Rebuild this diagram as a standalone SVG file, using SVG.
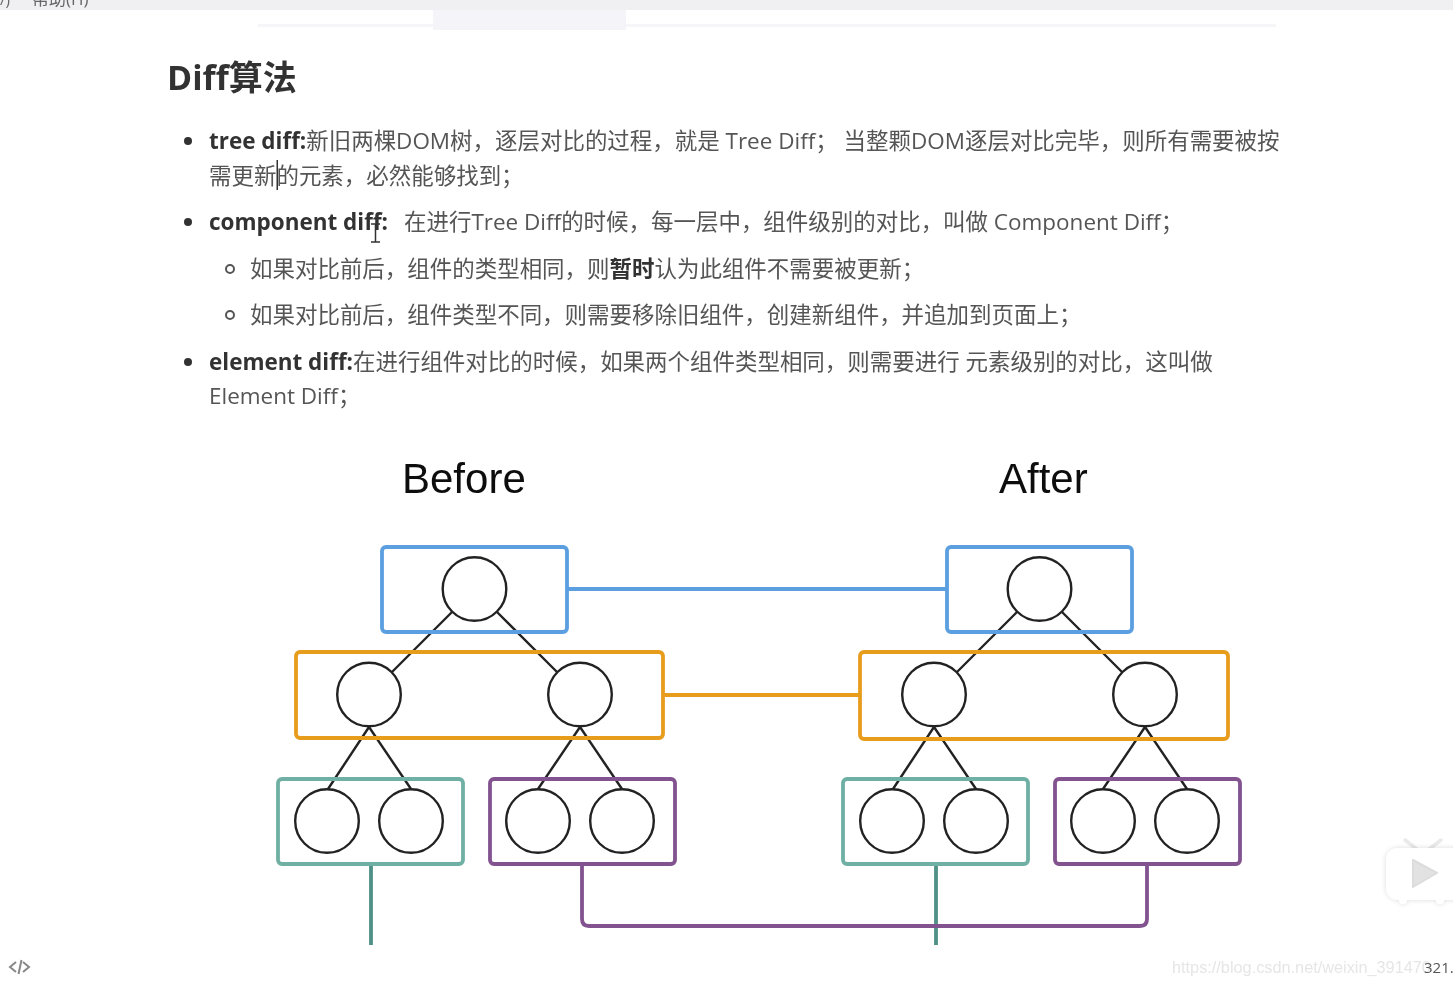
<svg xmlns="http://www.w3.org/2000/svg" width="1453" height="985" viewBox="0 0 1453 985">
<defs>
<filter id="soft" x="0" y="0" width="100%" height="100%"><feGaussianBlur stdDeviation="0.5"/></filter>
<filter id="shadow" x="-20%" y="-20%" width="140%" height="140%"><feDropShadow dx="0" dy="0" stdDeviation="2.5" flood-color="#000" flood-opacity="0.14"/></filter>
</defs>
<style>
text{font-family:"Open Sans","Noto Sans CJK SC",sans-serif}
.b{font-size:22.47px;fill:#555}
.s{font-weight:700;fill:#333}
.bl{fill:#333}
.n{fill:#fff;stroke:#222;stroke-width:2.4}
.e{stroke:#222;stroke-width:2.4;fill:none}
.box{fill:none;stroke-width:3.8}
.blue{stroke:#5b9fe0}.org{stroke:#e89c1e}.tea{stroke:#6fb0a4}.pur{stroke:#82528f}
.lk{fill:none;stroke-width:3.8}
.t{font-family:"Liberation Sans",Arial,sans-serif;font-size:42px;fill:#111}
</style>
<rect width="1453" height="985" fill="#fff"/>
<g filter="url(#soft)">
<g id="chrome">
<rect x="0" y="0" width="1453" height="10" fill="#f0f0f3"/>
<rect x="258" y="24" width="1018" height="3" fill="#f6f6f8"/>
<rect x="433" y="10" width="193" height="20" fill="#f5f5f9"/>
<text x="0" y="5" font-size="15" fill="#666">/)</text>
<text x="32" y="5" font-size="17" fill="#666">帮助(H)</text>
</g>
<g id="article">
<text x="167" y="90" font-size="34" class="s">Diff算法</text>
<circle class="bl" cx="188" cy="141" r="4"/>
<text x="209" y="148.500" class="b"><tspan class="s">tree diff:</tspan>新旧两棵DOM树，逐层对比的过程，就是 Tree Diff； 当整颗DOM逐层对比完毕，则所有需要被按</text>
<text x="209" y="183.500" class="b">需更新的元素，必然能够找到；</text>
<rect x="276.500" y="160" width="1.500" height="30" fill="#333"/>
<circle class="bl" cx="188" cy="222" r="4"/>
<text x="209" y="229.500" class="b"><tspan class="s">component diff:</tspan><tspan x="404">在进行Tree Diff的时候，每一层中，组件级别的对比，叫做 Component Diff；</tspan></text>
<path d="M371 224h9M375.500 224v18M371 242h9" stroke="#333" stroke-width="1.500" fill="none"/>
<circle cx="230" cy="269" r="4" fill="none" stroke="#555" stroke-width="2"/>
<text x="250" y="276.500" class="b">如果对比前后，组件的类型相同，则<tspan class="s">暂时</tspan>认为此组件不需要被更新；</text>
<circle cx="230" cy="315" r="4" fill="none" stroke="#555" stroke-width="2"/>
<text x="250" y="322.500" class="b">如果对比前后，组件类型不同，则需要移除旧组件，创建新组件，并追加到页面上；</text>
<circle class="bl" cx="188" cy="362" r="4"/>
<text x="209" y="369.500" class="b"><tspan class="s">element diff:</tspan>在进行组件对比的时候，如果两个组件类型相同，则需要进行 元素级别的对比，这叫做</text>
<text x="209" y="404" class="b">Element Diff；</text>
</g>
<text class="t" x="402" y="493">Before</text>
<text class="t" x="999" y="493">After</text>
<g id="connectors">
<path class="lk blue" d="M567 589H947"/>
<path class="lk org" d="M663 695H860"/>
<path class="lk" stroke="#4f9187" d="M371 864V945M936 864V945"/>
<path class="lk pur" d="M582 864V919Q582 926 589 926H1140Q1147 926 1147 919V864"/>
<path class="e" d="M452 612L392 672M497 612L557 672M369 727L328 789M369 727L411 789M580 727L538 789M580 727L622 789"/>
<path class="e" d="M1017 612L957 672M1062 612L1122 672M934 727L893 789M934 727L976 789M1145 727L1103 789M1145 727L1187 789"/>
</g>
<g id="before-root-group"><rect class="box blue" x="382" y="547" width="185" height="85" rx="4"/></g>
<g id="before-mid-group"><rect class="box org" x="296" y="652" width="367" height="86" rx="4"/></g>
<g id="before-leaf-group-a"><rect class="box tea" x="278" y="779" width="185" height="85" rx="4"/></g>
<g id="before-leaf-group-b"><rect class="box pur" x="490" y="779" width="185" height="85" rx="4"/></g>
<g id="after-root-group"><rect class="box blue" x="947" y="547" width="185" height="85" rx="4"/></g>
<g id="after-mid-group"><rect class="box org" x="860" y="652" width="368" height="87" rx="4"/></g>
<g id="after-leaf-group-a"><rect class="box tea" x="843" y="779" width="185" height="85" rx="4"/></g>
<g id="after-leaf-group-b"><rect class="box pur" x="1055" y="779" width="185" height="85" rx="4"/></g>
<g id="b1"><circle class="n" cx="474.500" cy="589" r="31.800"/></g>
<g id="b2"><circle class="n" cx="369" cy="694.500" r="31.800"/></g>
<g id="b3"><circle class="n" cx="580" cy="694.500" r="31.800"/></g>
<g id="b4"><circle class="n" cx="327" cy="821" r="31.800"/></g>
<g id="b5"><circle class="n" cx="411" cy="821" r="31.800"/></g>
<g id="b6"><circle class="n" cx="538" cy="821" r="31.800"/></g>
<g id="b7"><circle class="n" cx="622" cy="821" r="31.800"/></g>
<g id="a1"><circle class="n" cx="1039.500" cy="589" r="31.800"/></g>
<g id="a2"><circle class="n" cx="934" cy="694.500" r="31.800"/></g>
<g id="a3"><circle class="n" cx="1145" cy="694.500" r="31.800"/></g>
<g id="a4"><circle class="n" cx="892" cy="821" r="31.800"/></g>
<g id="a5"><circle class="n" cx="976" cy="821" r="31.800"/></g>
<g id="a6"><circle class="n" cx="1103" cy="821" r="31.800"/></g>
<g id="a7"><circle class="n" cx="1187" cy="821" r="31.800"/></g>
<g id="overlay">
<path d="M1405 840L1418 850M1441 840L1428 850" stroke="#eaeaea" stroke-width="3.500" stroke-linecap="round"/>
<g filter="url(#shadow)">
<rect x="1386" y="848" width="80" height="52" rx="12" fill="#fff"/>
<circle cx="1403" cy="900" r="4" fill="#fff"/><circle cx="1440" cy="900" r="4" fill="#fff"/>
</g>
<path d="M1413 860L1437 873L1413 887Z" fill="#e2e2e2" stroke="#dcdcdc" stroke-width="2" stroke-linejoin="round"/>
<path d="M16 962l-6 5 6 5M23 962l6 5-6 5M21.500 960l-3 14" stroke="#888" stroke-width="2" fill="none"/>
<text x="1172" y="973" style="font-family:'Liberation Sans',sans-serif;font-size:16.300px" fill="#e6e6e6">https://blog.csdn.net/weixin_391470</text>
<text x="1424" y="973" font-size="15" fill="#555">321.</text>
</g>
</g>
</svg>
